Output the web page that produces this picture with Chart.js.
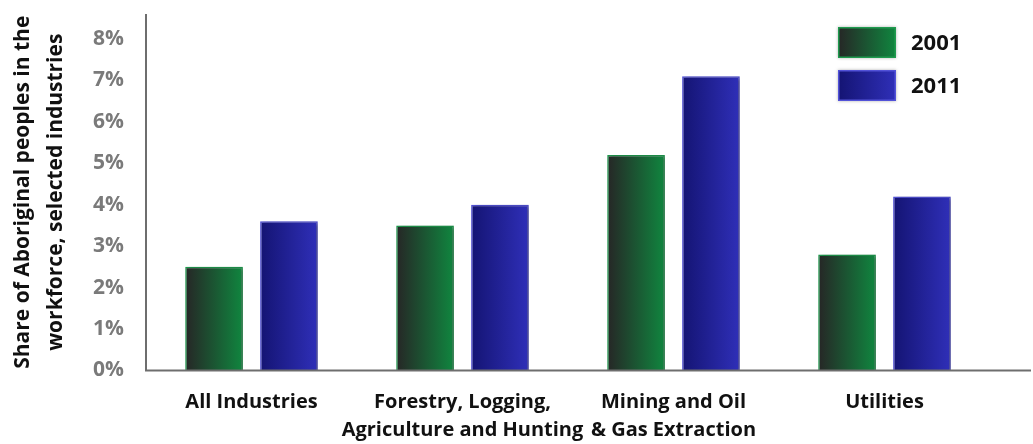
<!DOCTYPE html>
<html>
<head>
<meta charset="utf-8">
<script src="https://cdn.jsdelivr.net/npm/chart.js@4.4.1/dist/chart.umd.min.js"></script>
<style>
  html, body { margin: 0; padding: 0; background: #fff; }
  #wrap { width: 1033px; height: 444px; position: relative; }
</style>
</head>
<body>
<div id="wrap"><canvas id="myChart"></canvas></div>
<script>
// Industries and share of Aboriginal workers (%)
const categories = [
  ["All Industries"],
  ["Forestry, Logging,", "Agriculture and Hunting"],
  ["Mining and Oil", "& Gas Extraction"],
  ["Utilities"]
];
const years = ["2001", "2011"];
const share2001 = [2.5, 3.5, 5.2, 2.8];
const share2011 = [3.6, 4.0, 7.1, 4.2];
const yTicks = [0, 1, 2, 3, 4, 5, 6, 7, 8];

const FONT = "'Open Sans', Lato, sans-serif";
const styles = [
  { from: "#262626", to: "#10863f", border: "#1f9a4e" },
  { from: "#141473", to: "#2f2fb8", border: "#5252d8" }
];

// horizontal dark-to-bright fill on each bar, plus a soft drop shadow
const barGradients = {
  id: "barGradients",
  beforeDatasetsDraw(chart) {
    const c = chart.ctx;
    chart.data.datasets.forEach((ds, i) => {
      chart.getDatasetMeta(i).data.forEach(bar => {
        const g = c.createLinearGradient(bar.x - bar.width / 2, 0, bar.x + bar.width / 2, 0);
        g.addColorStop(0, styles[i].from);
        g.addColorStop(1, styles[i].to);
        bar.options.backgroundColor = g;
      });
    });
    c.save();
    c.shadowColor = "rgba(0,0,0,0.45)";
    c.shadowBlur = 4;
    c.shadowOffsetX = 2;
    c.shadowOffsetY = 1;
  },
  afterDatasetsDraw(chart) {
    chart.ctx.restore();
  }
};

// left axis and a baseline that runs on to the right edge
const axisLines = {
  id: "axisLines",
  afterDatasetsDraw(chart) {
    const c = chart.ctx;
    const area = chart.chartArea;
    const y0 = chart.scales.y.getPixelForValue(0);
    c.save();
    c.strokeStyle = "#6e6e6e";
    c.lineWidth = 2;
    c.beginPath();
    c.moveTo(area.left, area.top);
    c.lineTo(area.left, y0);
    c.lineTo(chart.width - 2, y0);
    c.stroke();
    c.restore();
  }
};

// legend boxes in the top right corner
const cornerLegend = {
  id: "cornerLegend",
  afterDraw(chart) {
    const c = chart.ctx;
    const boxX = 838, boxW = 58, boxH = 31, rowY = [27, 70];
    c.save();
    years.forEach((yr, i) => {
      const y = rowY[i];
      c.shadowColor = "rgba(0,0,0,0.3)";
      c.shadowBlur = 3;
      const g = c.createLinearGradient(boxX, 0, boxX + boxW, 0);
      g.addColorStop(0, styles[i].from);
      g.addColorStop(1, styles[i].to);
      c.fillStyle = styles[i].border;
      c.fillRect(boxX, y, boxW, boxH);
      c.shadowColor = "transparent";
      c.fillStyle = g;
      c.fillRect(boxX + 1.5, y + 1.5, boxW - 3, boxH - 3);
      c.fillStyle = "#111";
      c.font = "bold 22px " + FONT;
      c.textBaseline = "middle";
      c.textAlign = "left";
      c.fillText(yr, 911, y + boxH / 2 + 1);
    });
    c.restore();
  }
};

new Chart("myChart", {
  type: "bar",
  data: {
    labels: categories,
    datasets: [
      { label: years[0], data: share2001, backgroundColor: () => styles[0].to,
        borderColor: styles[0].border, borderWidth: 1.5 },
      { label: years[1], data: share2011, backgroundColor: () => styles[1].to,
        borderColor: styles[1].border, borderWidth: 1.5 }
    ]
  },
  options: {
    responsive: true,
    maintainAspectRatio: false,
    animation: false,
    layout: { padding: { top: 14, right: 43, bottom: 0, left: 0 } },
    categoryPercentage: 0.71,
    barPercentage: 0.77,
    plugins: {
      legend: { display: false },
      tooltip: { enabled: false }
    },
    scales: {
      x: {
        grid: { display: false, drawTicks: false },
        border: { display: false },
        ticks: {
          color: "#111",
          padding: 18,
          maxRotation: 0,
          autoSkip: false,
          font: { family: FONT, size: 20, weight: "bold", lineHeight: 1.4 }
        },
        afterFit(scale) {
          scale.height = 73.5;
          scale.paddingLeft = 0;
          scale.paddingRight = 0;
        }
      },
      y: {
        min: 0,
        max: 8.6,
        grid: { display: false, drawTicks: false },
        border: { display: false },
        afterBuildTicks(scale) {
          scale.ticks = yTicks.map(v => ({ value: v }));
        },
        ticks: {
          color: "#7a7a7a",
          padding: 22,
          font: { family: FONT, size: 21, weight: "bold" },
          callback: v => v + "%"
        },
        title: {
          display: true,
          text: ["Share of Aboriginal peoples in the", "workforce, selected industries"],
          color: "#111",
          padding: { top: 6.5 },
          font: { family: FONT, size: 21, weight: "bold", lineHeight: 1.57 }
        },
        afterFit(scale) {
          scale.width = 146;
          scale.paddingTop = 0;
          scale.paddingBottom = 0;
        }
      }
    }
  },
  plugins: [barGradients, axisLines, cornerLegend]
});
</script>
</body>
</html>
